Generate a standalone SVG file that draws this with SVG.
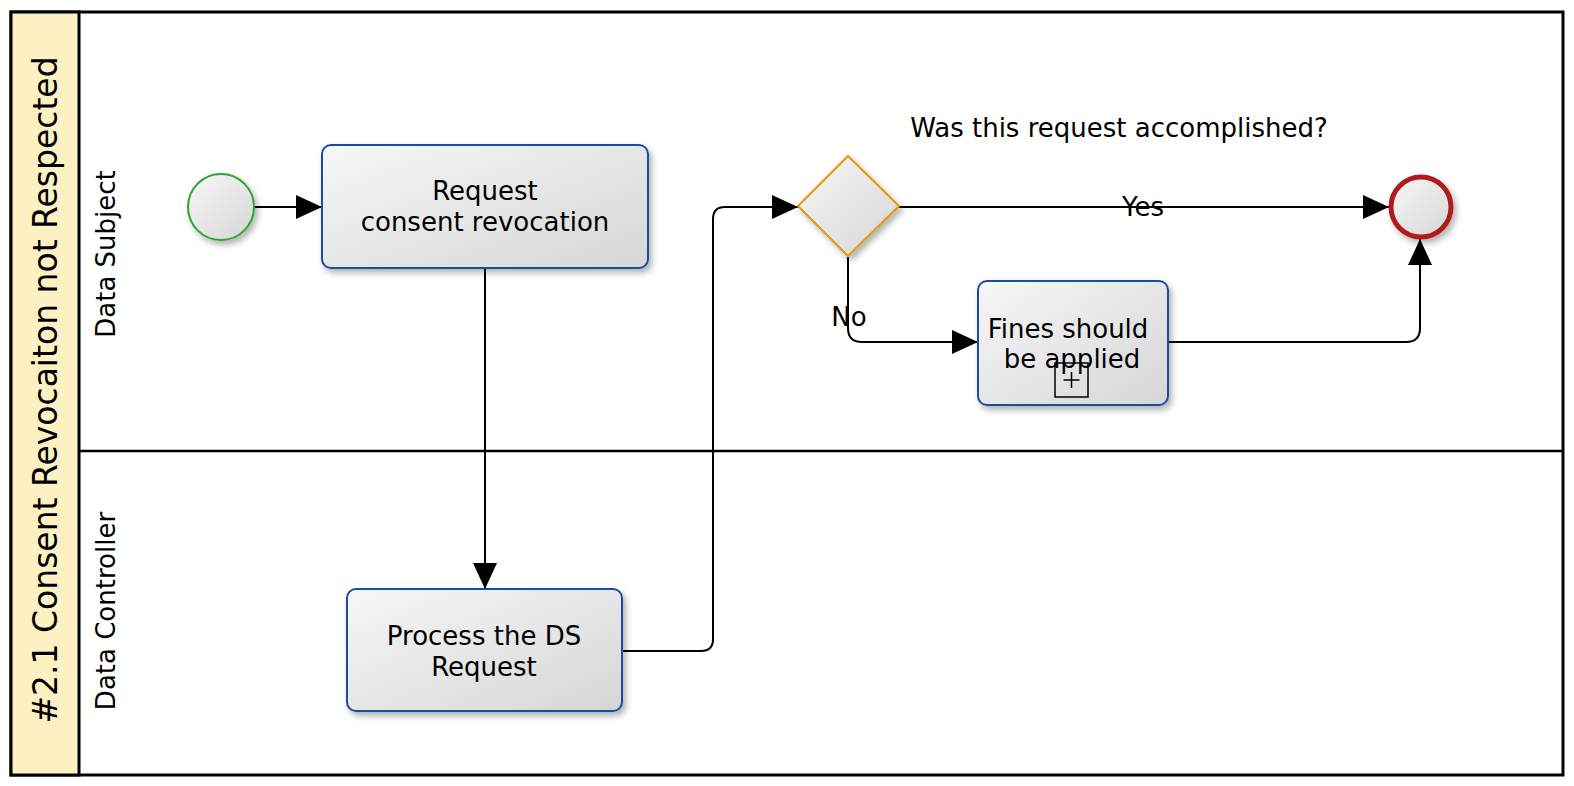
<svg xmlns="http://www.w3.org/2000/svg" width="1574" height="786" viewBox="0 0 1574 786">
<style>
text{font-family:"DejaVu Sans","Liberation Sans",sans-serif;fill:#000}
.task{fill:url(#gfill);stroke:#1F4BA5;stroke-width:2;filter:url(#sh)}
.lbl{font-size:26px;text-anchor:middle}
.conn{fill:none;stroke:#000;stroke-width:2}
</style>
<defs>
<linearGradient id="gfill" x1="0" y1="0" x2="1" y2="1">
<stop offset="0" stop-color="#f7f7f7"/>
<stop offset="1" stop-color="#d6d6d6"/>
</linearGradient>
<filter id="sh" x="-20%" y="-20%" width="150%" height="150%">
<feDropShadow dx="3" dy="4" stdDeviation="3" flood-color="#000" flood-opacity="0.3"/>
</filter>
<marker id="arr" markerUnits="userSpaceOnUse" markerWidth="27" markerHeight="26" refX="26" refY="12" orient="auto">
<path d="M0,0 L26,12 L0,24 z" fill="#000"/>
</marker>
</defs>
<rect x="0" y="0" width="1574" height="786" fill="#fff"/>
<g id="pool">
<rect x="11" y="12" width="1552" height="763" fill="#fff" stroke="#000" stroke-width="3"/>
<rect x="11" y="12" width="68" height="763" fill="#FDF1C4" stroke="#000" stroke-width="3"/>
<line x1="79" y1="451" x2="1563" y2="451" stroke="#000" stroke-width="2.5"/>
<text transform="translate(57,390) rotate(-90)" font-size="33" text-anchor="middle">#2.1 Consent Revocaiton not Respected</text>
</g>
<g id="lane-subject"><text transform="translate(115,254) rotate(-90)" font-size="26" text-anchor="middle">Data Subject</text></g>
<g id="lane-controller"><text transform="translate(115,611) rotate(-90)" font-size="26" text-anchor="middle">Data Controller</text></g>
<g id="connectors">
<path class="conn" d="M254,207 L322,207" marker-end="url(#arr)"/>
<path class="conn" d="M485,268 L485,589" marker-end="url(#arr)"/>
<path class="conn" d="M622,651 L701,651 Q713,651 713,639 L713,219 Q713,207 725,207 L798,207" marker-end="url(#arr)"/>
<path class="conn" d="M899,207 L1389,207" marker-end="url(#arr)"/>
<path class="conn" d="M848,257 L848,328 Q848,342 862,342 L978,342" marker-end="url(#arr)"/>
<path class="conn" d="M1168,342 L1406,342 Q1420,342 1420,328 L1420,239" marker-end="url(#arr)"/>
<text class="lbl" x="1143" y="216">Yes</text>
<text class="lbl" x="849" y="326">No</text>
</g>
<g id="start"><circle cx="221" cy="207" r="33" fill="url(#gfill)" stroke="#2DA52D" stroke-width="2" filter="url(#sh)"/></g>
<g id="request">
<rect class="task" x="322" y="145" width="326" height="123" rx="9"/>
<text class="lbl" x="485" y="200">Request</text>
<text class="lbl" x="485" y="231">consent revocation</text>
</g>
<g id="process">
<rect class="task" x="347" y="589" width="275" height="122" rx="9"/>
<text class="lbl" x="484" y="645">Process the DS</text>
<text class="lbl" x="484" y="676">Request</text>
</g>
<g id="gateway">
<polygon points="848,156 899,206 848,256 798,206" fill="url(#gfill)" stroke="#E8950A" stroke-width="2" filter="url(#sh)"/>
<text class="lbl" x="1119" y="137">Was this request accomplished?</text>
</g>
<g id="fines">
<rect class="task" x="978" y="281" width="190" height="124" rx="9"/>
<text class="lbl" x="1068" y="338">Fines should</text>
<text class="lbl" x="1072" y="368">be applied</text>
<rect x="1055" y="363" width="33" height="34" fill="none" stroke="#000" stroke-width="1.5"/>
<path d="M1071.5,372 L1071.5,388 M1063.5,380 L1079.5,380" stroke="#000" stroke-width="1.5"/>
</g>
<g id="end"><circle cx="1421" cy="207" r="30" fill="url(#gfill)" stroke="#B01F1F" stroke-width="5" filter="url(#sh)"/></g>
</svg>
